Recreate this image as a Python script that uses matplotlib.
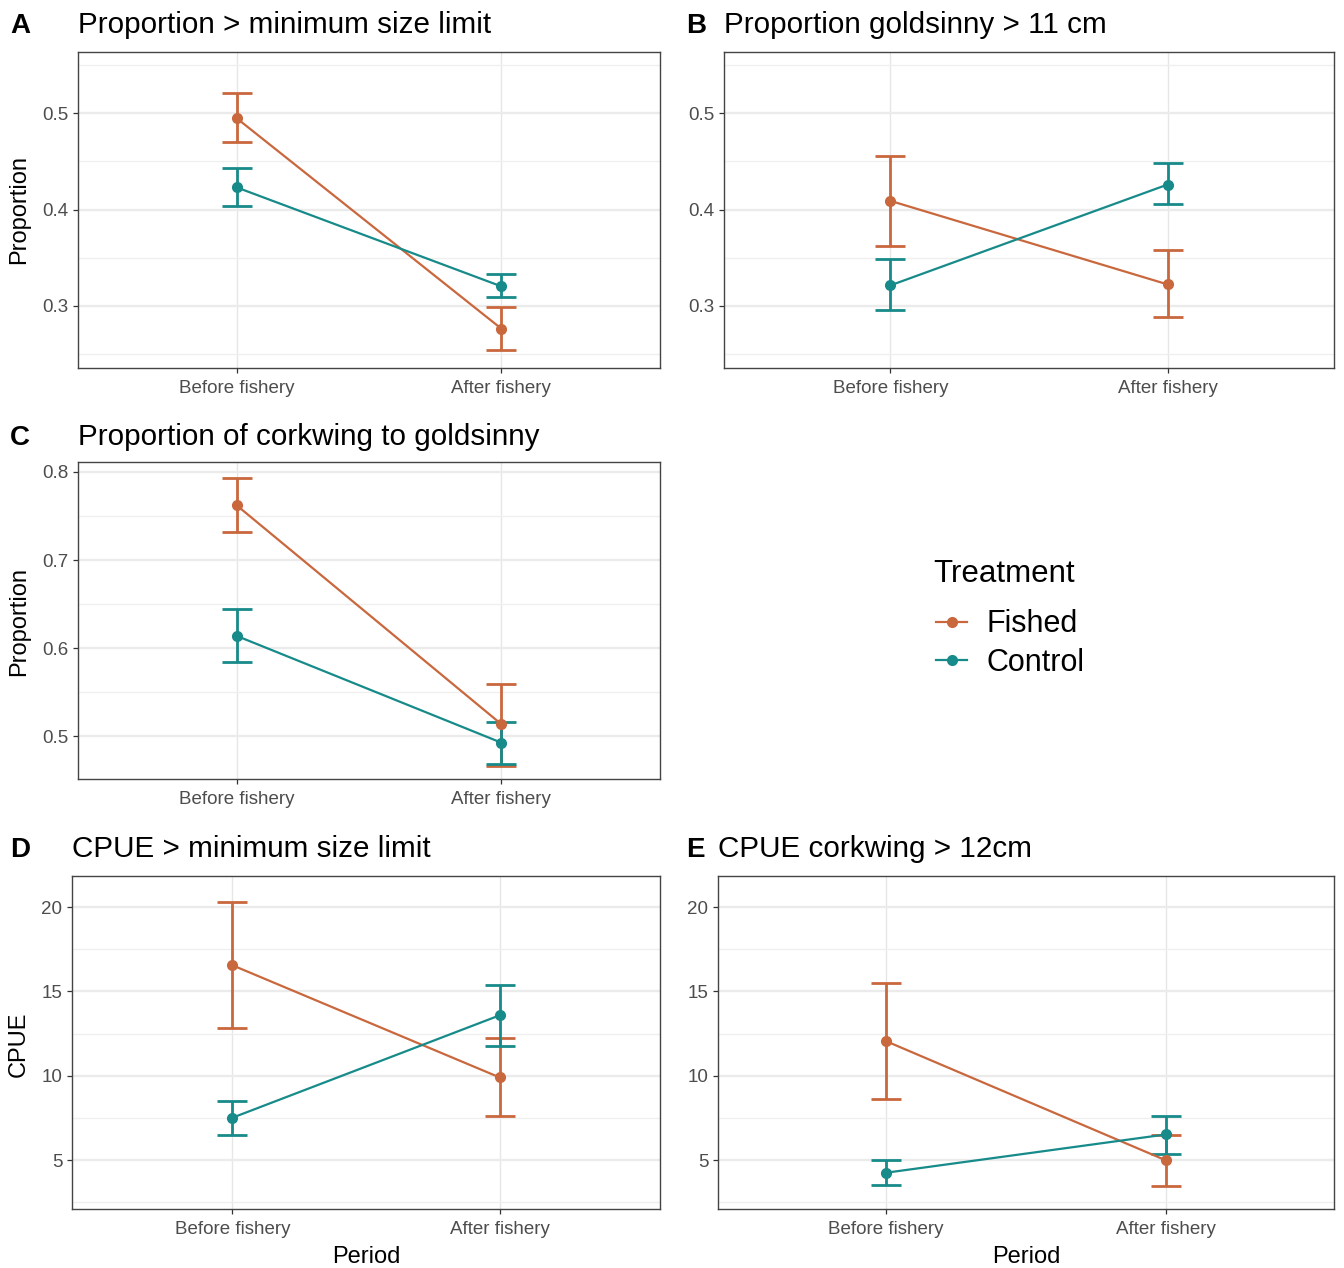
import numpy as np
import matplotlib.pyplot as plt
from matplotlib.lines import Line2D

plt.rcParams['font.family'] = ['Liberation Sans', 'DejaVu Sans']

period = ['Before fishery', 'After fishery']
treatments = ['Fished', 'Control']
colors = {'Fished': '#C9673D', 'Control': '#178A8A'}

# A: proportion > minimum size limit
a_fished = [0.495, 0.276]
a_fished_lo = [0.470, 0.254]
a_fished_hi = [0.521, 0.298]
a_control = [0.423, 0.320]
a_control_lo = [0.404, 0.309]
a_control_hi = [0.443, 0.333]

# B: proportion goldsinny > 11 cm
b_fished = [0.409, 0.322]
b_fished_lo = [0.362, 0.288]
b_fished_hi = [0.456, 0.358]
b_control = [0.321, 0.426]
b_control_lo = [0.295, 0.406]
b_control_hi = [0.348, 0.448]

# C: proportion of corkwing to goldsinny
c_fished = [0.762, 0.514]
c_fished_lo = [0.732, 0.466]
c_fished_hi = [0.793, 0.559]
c_control = [0.614, 0.493]
c_control_lo = [0.584, 0.469]
c_control_hi = [0.645, 0.516]

# D: CPUE > minimum size limit
d_fished = [16.55, 9.90]
d_fished_lo = [12.83, 7.59]
d_fished_hi = [20.28, 12.21]
d_control = [7.51, 13.58]
d_control_lo = [6.47, 11.79]
d_control_hi = [8.52, 15.36]

# E: CPUE corkwing > 12cm
e_fished = [12.05, 4.98]
e_fished_lo = [8.64, 3.48]
e_fished_hi = [15.49, 6.48]
e_control = [4.25, 6.52]
e_control_lo = [3.50, 5.38]
e_control_hi = [4.98, 7.59]

W, H = 1344, 1268
fig = plt.figure(figsize=(W / 100, H / 100), dpi=100)


def add_ax(l, r, t, b):
    return fig.add_axes([l / W, 1 - b / H, (r - l) / W, (b - t) / H])


def draw(ax, series, ylim, yticks, yminor, ticklabels):
    x = np.arange(1, len(period) + 1)
    for name in treatments:
        m, lo, hi = [np.array(v) for v in series[name]]
        ax.errorbar(x, m, yerr=[m - lo, hi - m], color=colors[name], lw=1.6,
                    elinewidth=2.0, capsize=10.5, capthick=2.0, marker='o',
                    ms=7, zorder=3)
    ax.set_xlim(0.4, 2.6)
    ax.set_ylim(ylim)
    ax.set_xticks(x)
    ax.set_xticklabels(period)
    ax.set_yticks(yticks)
    ax.set_yticklabels(ticklabels)
    ax.set_yticks(yminor, minor=True)
    ax.set_axisbelow(True)
    ax.grid(which='major', axis='y', color='#EBEBEB', lw=1.7)
    ax.grid(which='minor', axis='y', color='#EFEFEF', lw=0.9)
    ax.grid(which='major', axis='x', color='#E6E6E6', lw=1.0)
    ax.tick_params(which='minor', length=0)
    ax.tick_params(which='major', length=3.5, width=0.9, color='#333333',
                   labelcolor='#4D4D4D', labelsize=13.5, pad=3.5)
    ax.tick_params(axis='x', pad=5.5)
    for s in ax.spines.values():
        s.set_color('#444444')
        s.set_linewidth(1.0)


axA = add_ax(78, 660, 52, 367.5)
draw(axA, {'Fished': (a_fished, a_fished_lo, a_fished_hi),
           'Control': (a_control, a_control_lo, a_control_hi)},
     (0.2355, 0.564), [0.3, 0.4, 0.5], [0.25, 0.35, 0.45, 0.55],
     ['0.3', '0.4', '0.5'])

axB = add_ax(724, 1334, 52, 367.5)
draw(axB, {'Fished': (b_fished, b_fished_lo, b_fished_hi),
           'Control': (b_control, b_control_lo, b_control_hi)},
     (0.2355, 0.564), [0.3, 0.4, 0.5], [0.25, 0.35, 0.45, 0.55],
     ['0.3', '0.4', '0.5'])

axC = add_ax(78, 660, 462.5, 779)
draw(axC, {'Fished': (c_fished, c_fished_lo, c_fished_hi),
           'Control': (c_control, c_control_lo, c_control_hi)},
     (0.4518, 0.8106), [0.5, 0.6, 0.7, 0.8], [0.55, 0.65, 0.75],
     ['0.5', '0.6', '0.7', '0.8'])

axD = add_ax(72, 660, 876, 1209)
draw(axD, {'Fished': (d_fished, d_fished_lo, d_fished_hi),
           'Control': (d_control, d_control_lo, d_control_hi)},
     (2.10, 21.84), [5, 10, 15, 20], [2.5, 7.5, 12.5, 17.5],
     ['5', '10', '15', '20'])

axE = add_ax(718, 1334, 876, 1209)
draw(axE, {'Fished': (e_fished, e_fished_lo, e_fished_hi),
           'Control': (e_control, e_control_lo, e_control_hi)},
     (2.10, 21.84), [5, 10, 15, 20], [2.5, 7.5, 12.5, 17.5],
     ['5', '10', '15', '20'])

# panel letters and titles
titles = [('A', 10, 78, 33, 'Proportion > minimum size limit'),
          ('B', 686, 724, 33, 'Proportion goldsinny > 11 cm'),
          ('C', 10, 78, 445, 'Proportion of corkwing to goldsinny'),
          ('D', 10, 72, 857, 'CPUE > minimum size limit'),
          ('E', 686, 718, 857, 'CPUE corkwing > 12cm')]
for letter, lx, tx, by, txt in titles:
    fig.text(lx / W, 1 - by / H, letter, fontsize=20, fontweight='bold',
             va='baseline', ha='left')
    fig.text(tx / W, 1 - by / H, txt, fontsize=21.3, va='baseline', ha='left')

# axis titles
fig.text(19 / W, 1 - 210 / H, 'Proportion', rotation=90, fontsize=17,
         va='center', ha='center')
fig.text(19 / W, 1 - 621 / H, 'Proportion', rotation=90, fontsize=17,
         va='center', ha='center')
fig.text(19 / W, 1 - 1044 / H, 'CPUE', rotation=90, fontsize=17,
         va='center', ha='center')
fig.text(366 / W, 1 - 1263 / H, 'Period', fontsize=17, va='baseline', ha='center')
fig.text(1026 / W, 1 - 1263 / H, 'Period', fontsize=17, va='baseline', ha='center')

# legend
fig.text(933 / W, 1 - 574 / H, 'Treatment', fontsize=22.5, va='center',
         ha='left')
handles = [Line2D([], [], color=colors[t], lw=1.6, marker='o', ms=7)
           for t in treatments]
fig.legend(handles, treatments, loc='upper left',
           bbox_to_anchor=(924 / W, 1 - 597 / H), frameon=False, fontsize=22,
           handlelength=1.0, handletextpad=0.65, labelspacing=0.28,
           borderaxespad=0)

fig.savefig('out.png', dpi=100)
